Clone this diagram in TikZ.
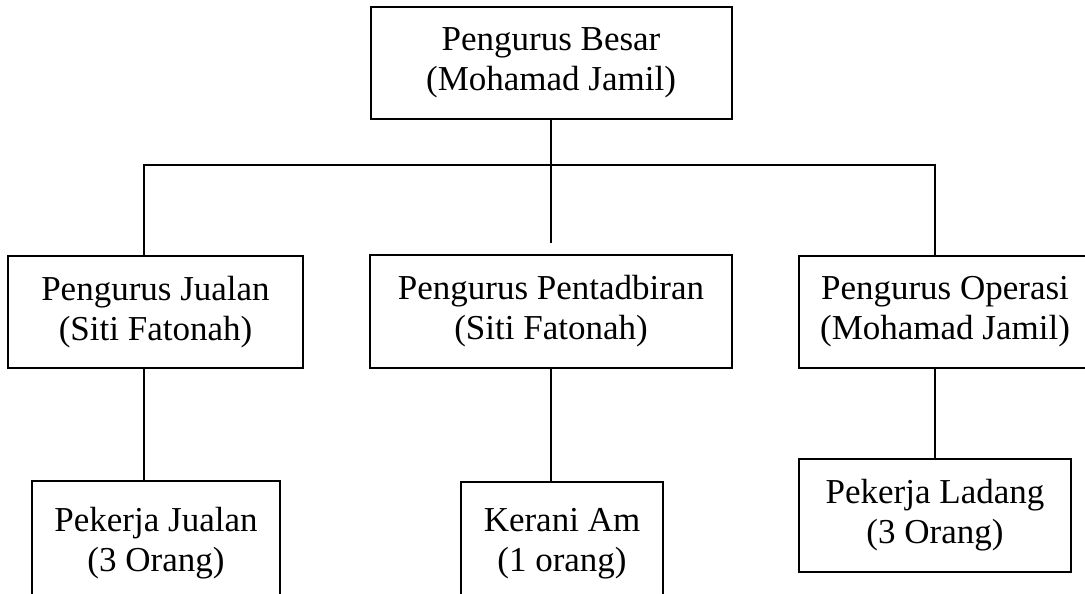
\documentclass[tikz,border=0pt]{standalone}
\usepackage{fontspec}
\setmainfont{Liberation Serif}
\usepackage{tikz}
\usepackage{xcolor}

\begin{document}
\begin{tikzpicture}%
  [x=1pt,y=-1pt,line width=2pt,
   every node/.style={font=\fontsize{35}{40}\selectfont}]
  \tikzstyle{org box}=[rectangle,draw=black,align=center,inner sep=0]
  \useasboundingbox (0,0) rectangle (1085,594);
  \clip (0,0) rectangle (1085,594);
  % boxes
  \node(besar)[org box,minimum width=361pt,minimum height=112pt] at (551,63)
    {Pengurus Besar\\(Mohamad Jamil)};
  \node(jualan)[org box,minimum width=295pt,minimum height=112pt] at (155.5,312)
    {Pengurus Jualan\\(Siti Fatonah)};
  \node(tadbir)[org box,minimum width=362pt,minimum height=113pt] at (551,311.5)
    {Pengurus Pentadbiran\\(Siti Fatonah)};
  \node(operasi)[org box,minimum width=292pt,minimum height=112pt] at (945,312)
    {Pengurus Operasi\\(Mohamad Jamil)};
  \node(pjualan)[org box,minimum width=248pt,minimum height=124pt] at (156,543)
    {Pekerja Jualan\\(3 Orang)};
  \node(kerani)[org box,minimum width=202pt,minimum height=124pt] at (562,544)
    {Kerani Am\\(1 orang)};
  \node(ladang)[org box,minimum width=272pt,minimum height=113pt] at (935,515.5)
    {Pekerja Ladang\\(3 Orang)};
  % connectors
  \coordinate(hL) at (144,165);
  \coordinate(hR) at (935,165);
  \coordinate(hM) at (551,243);
  \draw (besar.south) -- (hM);
  \draw (jualan.north -| hL) -- (hL) -- (hR) -- (operasi.north -| hR);
  \draw (jualan.south -| hL) -- (pjualan.north -| hL);
  \draw (tadbir.south) -- (kerani.north -| tadbir.south);
  \draw (operasi.south -| hR) -- (ladang.north);
\end{tikzpicture}
\end{document}
